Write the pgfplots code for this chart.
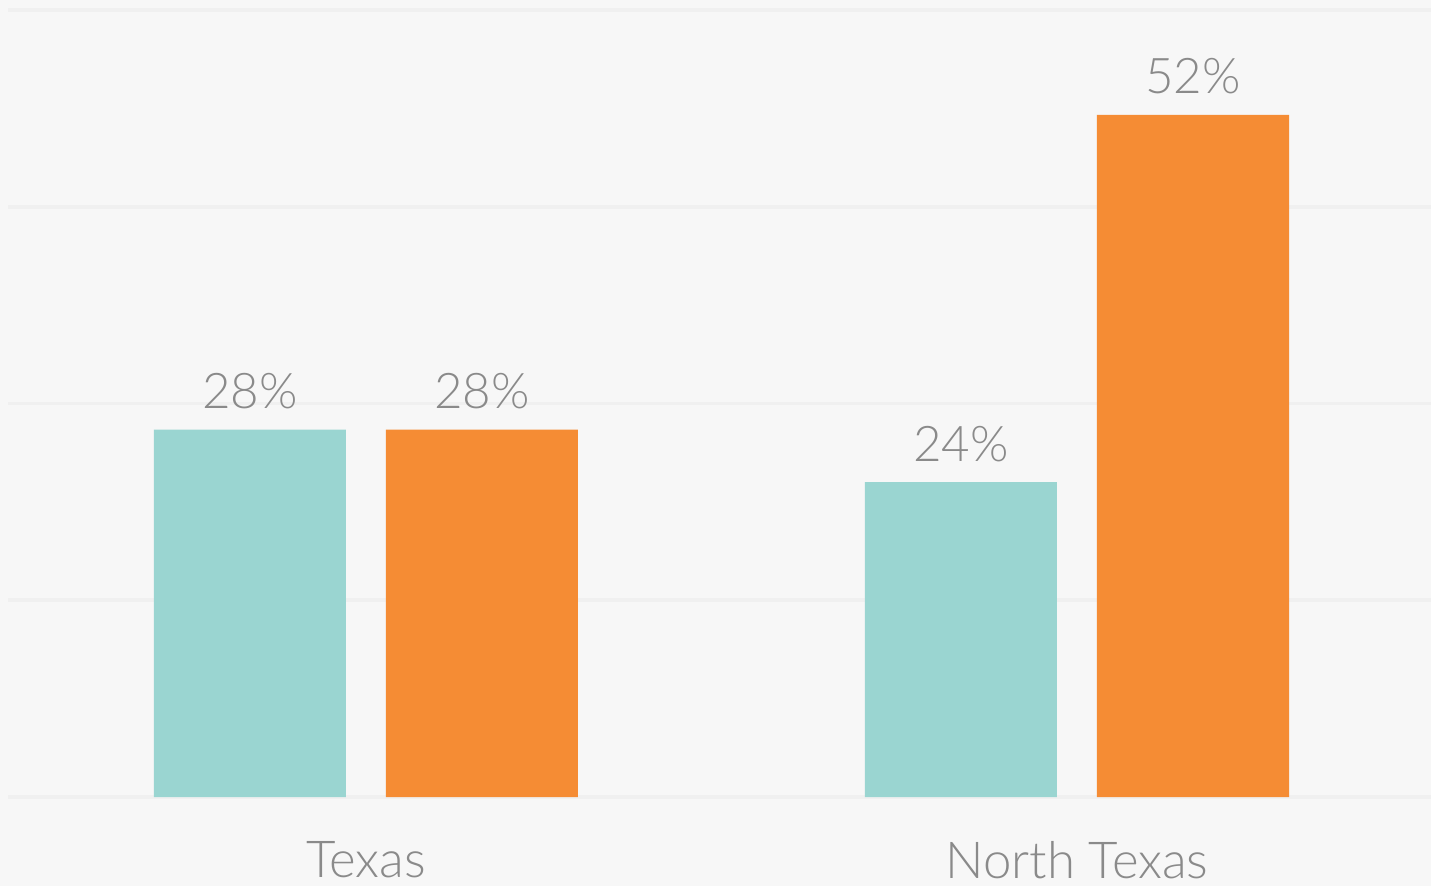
\documentclass[border=0pt]{standalone}
\usepackage{fontspec}
\setmainfont{Lato}[UprightFont=* Light]
\usepackage{pgfplots}
\pgfplotsset{compat=1.18}
\definecolor{bgc}{HTML}{F7F7F7}
\definecolor{gridc}{HTML}{F0F0F0}
\definecolor{tealc}{HTML}{9AD5D1}
\definecolor{orangec}{HTML}{F58C34}
\definecolor{txtc}{HTML}{8A8A8A}
\begin{document}
\begin{tikzpicture}
\fill[bgc] (-0.08,-0.89) rectangle (14.23,7.97);
\begin{axis}[
  at={(0,0)}, anchor=south west,
  scale only axis,
  width=14.23cm, height=7.87cm,
  ybar=0.4cm, bar width=1.92cm,
  xmin=-0.5035, xmax=1.4979,
  ymin=0, ymax=60,
  axis line style={draw=none},
  ytick={0,15,30,45,60},
  yticklabels={},
  xtick={0,1},
  xticklabels={Texas, North Texas},
  xticklabel style={font=\fontsize{14.5}{16}\selectfont, text=txtc, anchor=north, inner sep=0pt, yshift=-0.44cm},
  major tick length=0pt,
  ymajorgrids,
  grid style={gridc, line width=1pt},
  /pgf/number format/assume math mode=true,
  nodes near coords={\pgfmathprintnumber{\pgfplotspointmeta}\%},
  every node near coord/.append style={font=\fontsize{14}{16}\selectfont, text=txtc, inner sep=0pt, anchor=south, yshift=0.2cm},
  clip=false,
]
\addplot[draw=none, fill=tealc] coordinates {(0,28) (1,24)};
\addplot[draw=none, fill=orangec] coordinates {(0,28) (1,52)};
\end{axis}
\pgfresetboundingbox
\useasboundingbox (-0.08,-0.89) rectangle (14.23,7.97);
\end{tikzpicture}
\end{document}
